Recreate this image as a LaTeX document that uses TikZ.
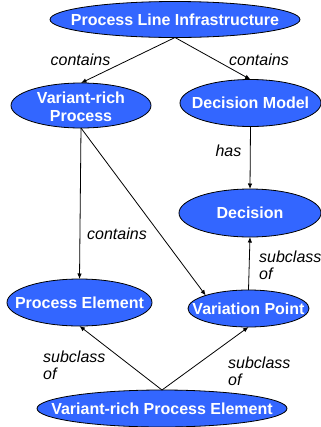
\documentclass[tikz,border=0pt]{standalone}
\usepackage{fontspec}
\setmainfont{Liberation Sans}
\usetikzlibrary{shapes.geometric,arrows.meta}
\definecolor{conceptblue}{RGB}{51,102,255}
\newcommand\ctxt[1]{\makebox[0pt]{#1}}
\begin{document}
\begin{tikzpicture}[x=1bp,y=-1bp,
  concept/.style={ellipse, draw=black, line width=0.8bp, fill=conceptblue,
    inner sep=0pt, outer sep=0pt, text=white,
    font=\fontsize{16bp}{18bp}\selectfont\bfseries,
    text height=11.5bp, text depth=0pt},
  rel/.style={font=\fontsize{16bp}{17bp}\selectfont\itshape, inner sep=0pt},
  conn/.style={-{Latex[length=5.5bp,width=4.5bp]}, line width=0.8bp}]
\useasboundingbox (0,0) rectangle (321,427);

\node[concept, minimum width=250bp, minimum height=36bp] (pli) at (175,19.5) {\ctxt{Process Line Infrastructure}};
\node[concept, minimum width=140bp, minimum height=45bp, text depth=16.5bp] (vrp) at (81,105.5)
  {\ctxt{\begin{tabular}[t]{@{}c@{}}Variant-rich\\Process\end{tabular}}};
\node[concept, minimum width=141bp, minimum height=47bp] (dm) at (250.5,103) {\ctxt{Decision Model}};
\node[concept, minimum width=142bp, minimum height=48bp] (dec) at (250,213) {\ctxt{Decision}};
\node[concept, minimum width=145bp, minimum height=47bp] (pe) at (79.5,302.5) {\ctxt{Process Element}};
\node[concept, minimum width=121bp, minimum height=37bp] (vp) at (248.5,308.5) {\ctxt{Variation Point}};
\node[concept, minimum width=250bp, minimum height=37bp] (vrpe) at (162,408.5) {\ctxt{Variant-rich Process Element}};

\node[rel, anchor=base] (l1) at (80.5,65) {contains};
\node[rel, anchor=base] (l2) at (259,65) {contains};
\node[rel, anchor=base] (l3) at (228.5,156) {has};
\node[rel, anchor=base] (l4) at (117,239) {contains};
\node[rel, anchor=base west] (l5) at (259,262) {\begin{tabular}[t]{@{}l@{}}subclass\\of\end{tabular}};
\node[rel, anchor=base west] (l6) at (43,362) {\begin{tabular}[t]{@{}l@{}}subclass\\of\end{tabular}};
\node[rel, anchor=base west] (l7) at (228,368) {\begin{tabular}[t]{@{}l@{}}subclass\\of\end{tabular}};

\draw[conn] (pli.south) -- (vrp.north);
\draw[conn] (pli.south) -- (dm.north);
\draw[conn] (dm.south) -- (dec.north);
\draw[conn] (vrp.south) -- (pe.north);
\draw[conn] (vrp.south) -- (vp.163);
\draw[conn] (vp.north) -- (dec.south);
\draw[conn] (vrpe.north) -- (pe.south);
\draw[conn] (vrpe.north) -- (vp.south);
\end{tikzpicture}
\end{document}
